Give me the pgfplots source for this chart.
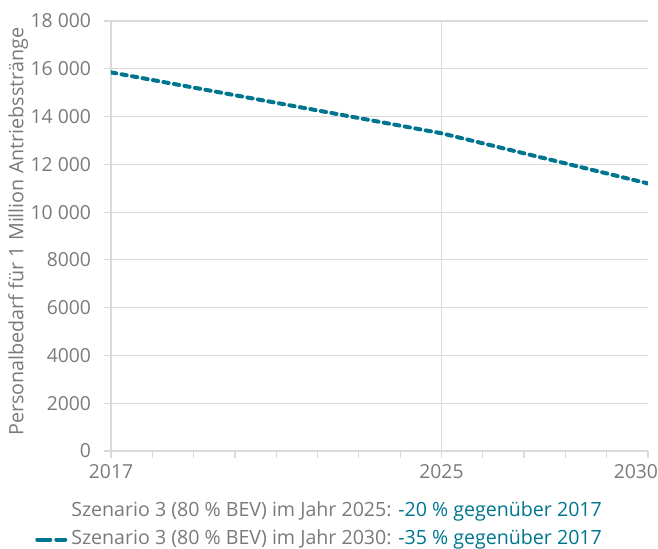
\documentclass[border=0pt]{standalone}
\usepackage{pgfplots}
\pgfplotsset{compat=1.18}
\usepackage{fontspec}
\setmainfont{Open Sans}
\definecolor{teal1}{RGB}{0,117,143}
\definecolor{txtgray}{RGB}{122,122,122}
\definecolor{gridgray}{RGB}{218,218,218}
\begin{document}
\begin{tikzpicture}
\begin{axis}[
  scale only axis, width=402.75pt, height=322.5pt,
  at={(0pt,0pt)}, anchor=south west,
  xmin=2017, xmax=2030, ymin=0, ymax=18000,
  axis x line*=bottom, axis y line*=left,
  axis line style={gridgray, line width=0.9pt},
  scaled y ticks=false, scaled x ticks=false,
  xtick={2017,2025,2030}, xticklabels={2017,2025,\makebox[15pt][r]{2030}},
  minor xtick={2018,2019,2020,2021,2022,2023,2024,2026,2027,2028,2029},
  ytick={0,2000,4000,6000,8000,10000,12000,14000,16000,18000},
  yticklabels={0,2000,4000,6000,8000,10 000,12 000,14 000,16 000,18 000},
  ymajorgrids,
  extra x ticks={2025}, extra x tick labels={},
  extra x tick style={xmajorgrids=true, major tick length=0pt},
  major grid style={gridgray, line width=0.9pt},
  tick style={gridgray, line width=0.9pt},
  major tick length=5pt, minor tick length=5pt,
  tick align=outside,
  tick label style={font=\fontsize{14.5}{16}\selectfont, text=txtgray},
  yticklabel style={xshift=-6.5pt},
  xticklabel style={yshift=-1.5pt},
  ylabel={Personalbedarf für 1 Million Antriebsstränge},
  ylabel style={at={(axis description cs:-0.173,0.51)}, anchor=center, font=\fontsize{14.8}{16}\selectfont, text=txtgray},
  legend style={at={(rel axis cs:-0.1415,-0.117)}, anchor=north west, draw=none, fill=none,
    font=\fontsize{14.7}{16}\selectfont, text=txtgray, cells={anchor=west}, row sep=6pt,
    column sep=3pt, inner sep=0pt,
    nodes={text height=11pt, text depth=4pt, inner sep=0pt}},
  legend cell align=left,
]
\addlegendimage{white, draw opacity=0, line width=0pt}
\addplot[teal1, line width=3pt, dash pattern=on 4pt off 4pt, line cap=round,
  legend image code/.code={\draw[teal1, line width=3pt, dash pattern=on 9.75pt off 4.5pt] (0pt,0pt) -- (21pt,0pt);}]
  coordinates {(2017,15850) (2025,13300) (2030,11200)};
\legend{Szenario 3 (80 \% BEV) im Jahr 2025: \textcolor{teal1}{-20 \% gegenüber 2017},
        Szenario 3 (80 \% BEV) im Jahr 2030: \textcolor{teal1}{-35 \% gegenüber 2017}}
\end{axis}
\pgfresetboundingbox
\path (-83.25pt,-73.5pt) rectangle (410.25pt,338.25pt);
\end{tikzpicture}
\end{document}
